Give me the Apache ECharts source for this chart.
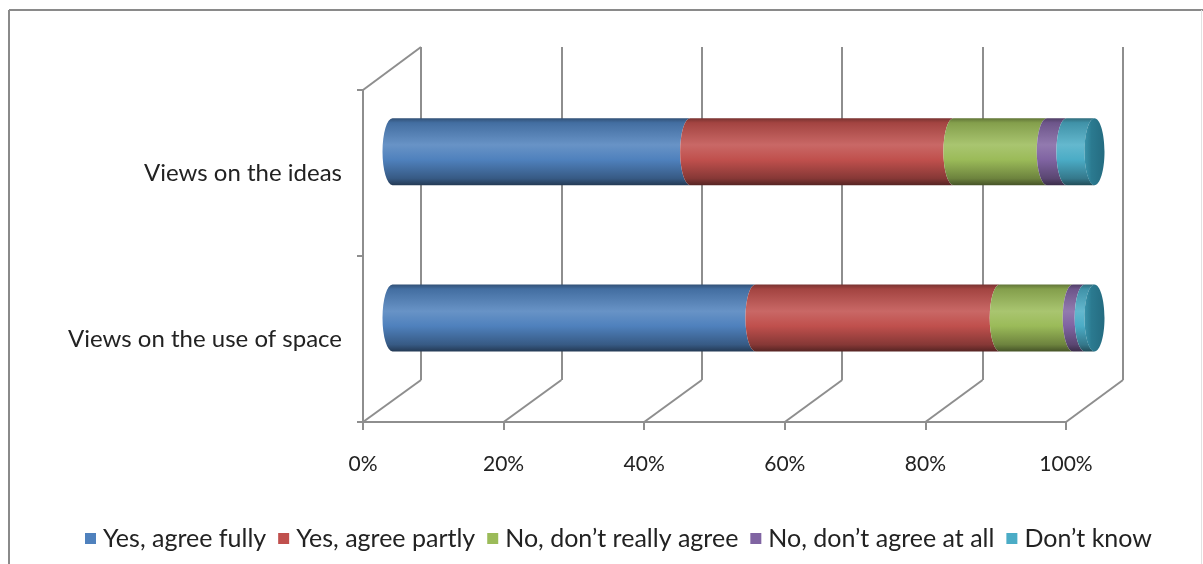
<!DOCTYPE html>
<html>
<head>
<meta charset="utf-8">
<script src="https://cdn.jsdelivr.net/npm/echarts@6/dist/echarts.min.js"></script>
<style>
  html, body { margin: 0; padding: 0; background: #ffffff; }
  #chart { width: 1203px; height: 564px; }
</style>
</head>
<body>
<div id="chart"></div>
<script>
// Survey answers, percent of respondents per question
const categories = ['Views on the ideas', 'Views on the use of space'];
const seriesNames = ['Yes, agree fully', 'Yes, agree partly', 'No, don\u2019t really agree', 'No, don\u2019t agree at all', 'Don\u2019t know'];
const agreeFully     = [42.4, 51.7];
const agreePartly    = [37.5, 34.8];
const notReallyAgree = [13.3, 10.4];
const notAgreeAtAll  = [2.8, 1.7];
const dontKnow       = [4.0, 1.4];
const xTicks = [0, 20, 40, 60, 80, 100];

const seriesValues = [agreeFully, agreePartly, notReallyAgree, notAgreeAtAll, dontKnow];
const baseColors = ['#4f81bd', '#c0504d', '#9bbb59', '#8064a2', '#4bacc6'];
const endFaceColor = '#2b7a90';

// 3D box layout: front plane, back wall, and the bars halfway in depth
const W = 1203, H = 564;
const FRONT = { left: 363, right: 1066, top: 90, bottom: 422 };
const BACK  = { left: 421, right: 1123, top: 47, bottom: 380 };
const MID   = {
  left: (FRONT.left + BACK.left) / 2 + 0.5,
  right: (FRONT.right + BACK.right) / 2,
  top: (FRONT.top + BACK.top) / 2,
  bottom: (FRONT.bottom + BACK.bottom) / 2
};
const BAR_H = 67;
const CAP_RX = 10;
const LINE_COLOR = '#8e8e8e';
const TEXT_COLOR = '#222222';
const FONT = 'Lato, "Open Sans", sans-serif';

function shade(hex, f) {
  const n = parseInt(hex.slice(1), 16);
  let r = (n >> 16) & 255, g = (n >> 8) & 255, b = n & 255;
  const adj = c => f >= 1 ? Math.round(c + (255 - c) * (f - 1)) : Math.round(c * f);
  r = adj(r); g = adj(g); b = adj(b);
  return 'rgb(' + r + ',' + g + ',' + b + ')';
}

function cylinderFill(hex) {
  return new echarts.graphic.LinearGradient(0, 0, 0, 1, [
    { offset: 0.00, color: shade(hex, 0.62) },
    { offset: 0.07, color: shade(hex, 0.85) },
    { offset: 0.40, color: shade(hex, 1.14) },
    { offset: 0.62, color: shade(hex, 1.0) },
    { offset: 0.90, color: shade(hex, 0.70) },
    { offset: 1.00, color: shade(hex, 0.45) }
  ]);
}

// stacked [start, end, categoryIndex] for every segment
function stackedData(si) {
  return categories.map((c, ci) => {
    let start = 0;
    for (let k = 0; k < si; k++) start += seriesValues[k][ci];
    return [start, start + seriesValues[si][ci], ci];
  });
}

function makeRenderer(si) {
  const isLast = si === seriesValues.length - 1;
  return function (params, api) {
    const ci = api.value(2);
    const p0 = api.coord([api.value(0), ci]);
    const p1 = api.coord([api.value(1), ci]);
    const cy = p0[1], ry = BAR_H / 2;
    const top = cy - ry, bot = cy + ry;
    const x0 = p0[0], x1 = p1[0];
    const d = 'M' + x0 + ' ' + top +
      ' A' + CAP_RX + ' ' + ry + ' 0 0 0 ' + x0 + ' ' + bot +
      ' L' + x1 + ' ' + bot +
      ' A' + CAP_RX + ' ' + ry + ' 0 0 1 ' + x1 + ' ' + top + ' Z';
    const children = [{
      type: 'path',
      shape: { pathData: d },
      style: { fill: cylinderFill(baseColors[si]) }
    }];
    if (isLast) {
      children.push({
        type: 'ellipse',
        shape: { cx: x1, cy: cy, rx: CAP_RX, ry: ry },
        style: {
          fill: new echarts.graphic.LinearGradient(0, 0, 1, 0, [
            { offset: 0, color: '#3a93aa' },
            { offset: 0.35, color: endFaceColor },
            { offset: 1, color: '#246b80' }
          ])
        }
      });
    }
    return { type: 'group', children: children };
  };
}

const chart = echarts.init(document.getElementById('chart'), null, { renderer: 'canvas' });

const grid = [
  { left: FRONT.left, right: W - FRONT.right, top: FRONT.top, bottom: H - FRONT.bottom },
  { left: BACK.left, right: W - BACK.right, top: BACK.top, bottom: H - BACK.bottom },
  { left: MID.left, right: W - MID.right, top: MID.top, bottom: H - MID.bottom }
];

const option = {
  backgroundColor: '#ffffff',
  animation: false,
  grid: grid,
  legend: {
    data: seriesNames,
    bottom: 8,
    left: 80,
    icon: 'rect',
    itemWidth: 11,
    itemHeight: 11,
    itemGap: 12,
    textStyle: { fontFamily: FONT, fontSize: 25, color: TEXT_COLOR, padding: [0, 0, 0, 2] }
  },
  xAxis: [
    {
      gridIndex: 0, type: 'value', min: 0, max: 100, interval: 20,
      axisLine: { show: true, lineStyle: { color: LINE_COLOR, width: 2 } },
      axisTick: { show: true, length: 8, lineStyle: { color: LINE_COLOR, width: 2 } },
      splitLine: { show: false },
      axisLabel: { formatter: '{value}%', fontFamily: FONT, fontSize: 21, color: TEXT_COLOR, margin: 32 }
    },
    {
      gridIndex: 1, type: 'value', min: 0, max: 100, interval: 20,
      axisLine: { show: false }, axisTick: { show: false }, axisLabel: { show: false },
      splitLine: { show: true, lineStyle: { color: LINE_COLOR, width: 2 } }
    },
    {
      gridIndex: 2, type: 'value', min: 0, max: 100, interval: 20, show: false
    }
  ],
  yAxis: [
    {
      gridIndex: 0, type: 'category', data: categories, inverse: true,
      axisLine: { show: true, lineStyle: { color: LINE_COLOR, width: 2 } },
      axisTick: { show: true, length: 6, lineStyle: { color: LINE_COLOR, width: 2 } },
      axisLabel: { fontFamily: FONT, fontSize: 24, color: TEXT_COLOR, margin: 21, padding: [4, 0, 0, 0] }
    },
    {
      gridIndex: 1, type: 'category', data: categories, inverse: true, show: false
    },
    {
      gridIndex: 2, type: 'category', data: categories, inverse: true, show: false
    }
  ],
  series: seriesNames.map((name, si) => ({
    name: name,
    type: 'custom',
    xAxisIndex: 2,
    yAxisIndex: 2,
    itemStyle: { color: baseColors[si] },
    encode: { x: [0, 1], y: 2 },
    renderItem: makeRenderer(si),
    data: stackedData(si),
    z: 5
  }))
};

chart.setOption(option);

// floor and side-wall edges joining the front axis to the back wall
const lineStyle = { stroke: LINE_COLOR, lineWidth: 2 };
const edges = [];
xTicks.forEach(v => {
  const xf = chart.convertToPixel({ xAxisIndex: 0 }, v);
  const xb = chart.convertToPixel({ xAxisIndex: 1 }, v);
  edges.push({ type: 'line', shape: { x1: xf, y1: FRONT.bottom, x2: xb, y2: BACK.bottom }, style: lineStyle, z: 1 });
});
const xf0 = chart.convertToPixel({ xAxisIndex: 0 }, xTicks[0]);
const xb0 = chart.convertToPixel({ xAxisIndex: 1 }, xTicks[0]);
edges.push({ type: 'line', shape: { x1: xf0, y1: FRONT.top, x2: xb0, y2: BACK.top }, style: lineStyle, z: 1 });
// outer frame
edges.push({ type: 'line', shape: { x1: 9, y1: 10, x2: W, y2: 10 }, style: { stroke: '#8a8a8a', lineWidth: 2 }, z: 1 });
edges.push({ type: 'line', shape: { x1: 9, y1: 10, x2: 9, y2: H }, style: { stroke: '#8a8a8a', lineWidth: 2 }, z: 1 });
edges.push({ type: 'line', shape: { x1: 1201.5, y1: 10, x2: 1201.5, y2: H }, style: { stroke: '#e2e2e2', lineWidth: 1 }, z: 1 });

chart.setOption({ graphic: edges });
</script>
</body>
</html>
